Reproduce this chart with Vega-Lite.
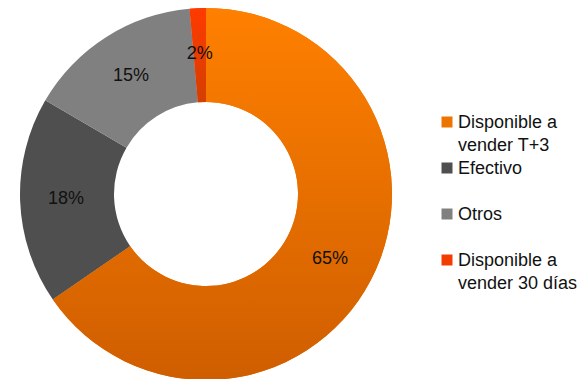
{
  "$schema": "https://vega.github.io/schema/vega-lite/v6.json",
  "width": 412,
  "height": 370,
  "autosize": "none",
  "padding": {"left": 0, "top": 9, "right": 175, "bottom": 0},
  "background": "white",
  "config": {"view": {"stroke": null}, "font": "Liberation Sans"},
  "data": {"values": [
    {"cat": "Disponible a vender T+3", "value": 65.4, "label": "65%", "order": 1},
    {"cat": "Efectivo", "value": 18.0, "label": "18%", "order": 2},
    {"cat": "Otros", "value": 15.2, "label": "15%", "order": 3},
    {"cat": "Disponible a vender 30 días", "value": 1.4, "label": "2%", "order": 4}
  ]},
  "transform": [
    {"stack": "value", "groupby": [], "sort": [{"field": "order"}], "as": ["start", "end"]}
  ],
  "layer": [
    {
      "mark": {"type": "arc", "outerRadius": 186, "innerRadius": 92},
      "encoding": {
        "theta": {"field": "start", "type": "quantitative", "scale": {"domain": [0, 100]}},
        "theta2": {"field": "end"},
        "color": {
          "field": "cat", "type": "nominal",
          "scale": {
            "domain": ["Disponible a vender T+3", "Efectivo", "Otros", "Disponible a vender 30 días"],
            "range": ["#EC7400", "#4F4F4F", "#808080", "#F23C00"]
          },
          "legend": {
            "title": null,
            "orient": "none",
            "legendX": 438,
            "legendY": 104,
            "symbolType": "square",
            "symbolSize": 121,
            "symbolStrokeWidth": 0,
            "labelFont": "Liberation Sans",
            "labelFontSize": 18,
            "labelColor": "#111111",
            "labelLimit": 200,
            "labelOffset": 2,
            "labelBaseline": "top",
            "gridAlign": "all",
            "rowPadding": 4,
            "labelExpr": "datum.label == 'Disponible a vender T+3' ? ['Disponible a', 'vender T+3'] : datum.label == 'Disponible a vender 30 días' ? ['Disponible a', 'vender 30 días'] : datum.label",
            "encode": {"labels": {"update": {"dy": {"value": -8}, "lineHeight": {"value": 23}}}}
          }
        }
      }
    },
    {
      "transform": [{"filter": "datum.order == 1"}],
      "mark": {
        "type": "arc", "outerRadius": 186, "innerRadius": 92,
        "fill": {"gradient": "linear", "x1": 0, "y1": 0, "x2": 0, "y2": 1,
          "stops": [{"offset": 0, "color": "#FF8000"}, {"offset": 1, "color": "#CF5E00"}]}
      },
      "encoding": {
        "theta": {"field": "start", "type": "quantitative"},
        "theta2": {"field": "end"}
      }
    },
    {
      "transform": [{"filter": "datum.order == 4"}],
      "mark": {
        "type": "arc", "outerRadius": 186, "innerRadius": 92,
        "fill": {"gradient": "linear", "x1": 0, "y1": 0, "x2": 0, "y2": 1,
          "stops": [{"offset": 0, "color": "#FF3A00"}, {"offset": 1, "color": "#D43F00"}]}
      },
      "encoding": {
        "theta": {"field": "start", "type": "quantitative"},
        "theta2": {"field": "end"}
      }
    },
    {
      "mark": {"type": "text", "radius": 140, "font": "Liberation Sans", "fontSize": 18, "color": "#111111"},
      "encoding": {
        "theta": {"field": "value", "type": "quantitative", "stack": true},
        "order": {"field": "order"},
        "text": {"field": "label"}
      }
    }
  ]
}
